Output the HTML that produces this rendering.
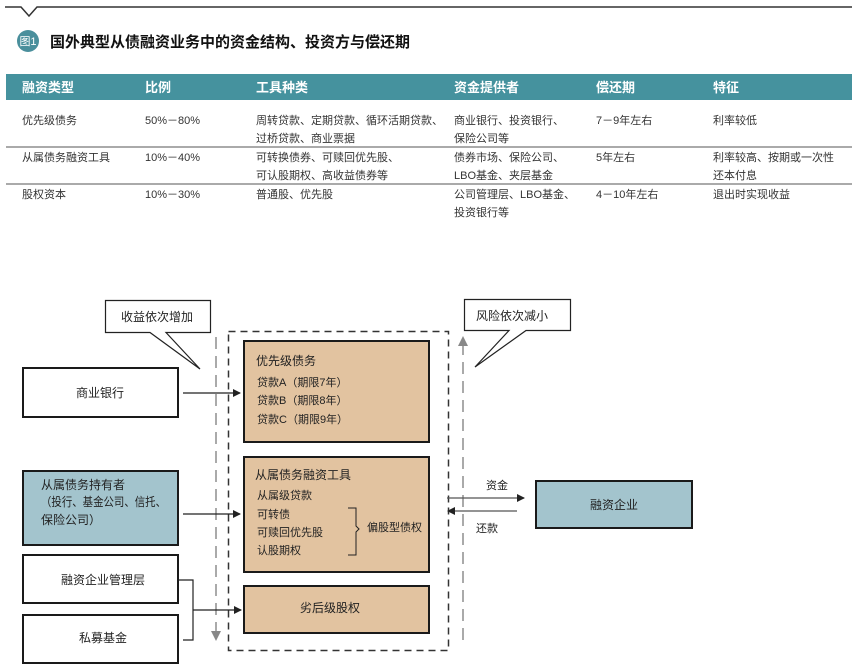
<!DOCTYPE html>
<html><head><meta charset="utf-8"><style>
html,body{margin:0;padding:0;background:#fff;}
svg{display:block;font-family:"Liberation Sans","Noto Sans CJK SC",sans-serif;}
</style></head><body>
<svg width="861" height="671" viewBox="0 0 861 671" xmlns="http://www.w3.org/2000/svg">
<defs>
<marker id="ab" markerWidth="8" markerHeight="8" refX="7" refY="4" orient="auto" markerUnits="userSpaceOnUse"><path d="M0,0 L8,4 L0,8 Z" fill="#222"/></marker>
<marker id="ag" markerWidth="10" markerHeight="10" refX="9" refY="5" orient="auto" markerUnits="userSpaceOnUse"><path d="M0,0 L10,5 L0,10 Z" fill="#888"/></marker>
</defs>
<polyline points="5,7 21,7 29,16 37,7 852,7" fill="none" stroke="#333" stroke-width="1.5"/>
<circle cx="28" cy="41" r="11" fill="#4a8f9c"/>
<text x="28" y="45" font-size="11" fill="#fff" text-anchor="middle">图1</text>
<text x="50" y="47" font-size="15" font-weight="bold" fill="#111">国外典型从债融资业务中的资金结构、投资方与偿还期</text>
<rect x="6" y="74" width="846" height="26" fill="#45929e"/>
<g font-size="13" font-weight="bold" fill="#fff">
<text x="22" y="92">融资类型</text><text x="145" y="92">比例</text><text x="256" y="92">工具种类</text>
<text x="454" y="92">资金提供者</text><text x="596" y="92">偿还期</text><text x="713" y="92">特征</text>
</g>
<g font-size="11" fill="#333">
<text x="22" y="124">优先级债务</text><text x="145" y="124">50%－80%</text><text x="256" y="124">周转贷款、定期贷款、循环活期贷款、</text><text x="256" y="142">过桥贷款、商业票据</text>
<text x="454" y="124">商业银行、投资银行、</text><text x="454" y="142">保险公司等</text><text x="596" y="124">7－9年左右</text><text x="713" y="124">利率较低</text>
<text x="22" y="161">从属债务融资工具</text><text x="145" y="161">10%－40%</text><text x="256" y="161">可转换债券、可赎回优先股、</text><text x="256" y="179">可认股期权、高收益债券等</text>
<text x="454" y="161">债券市场、保险公司、</text><text x="454" y="179">LBO基金、夹层基金</text><text x="596" y="161">5年左右</text><text x="713" y="161">利率较高、按期或一次性</text><text x="713" y="179">还本付息</text>
<text x="22" y="198">股权资本</text><text x="145" y="198">10%－30%</text><text x="256" y="198">普通股、优先股</text>
<text x="454" y="198">公司管理层、LBO基金、</text><text x="454" y="216">投资银行等</text><text x="596" y="198">4－10年左右</text><text x="713" y="198">退出时实现收益</text>
</g>
<line x1="6" y1="147" x2="852" y2="147" stroke="#555" stroke-width="1"/>
<line x1="6" y1="184" x2="852" y2="184" stroke="#555" stroke-width="1"/>
<rect x="228.5" y="331.5" width="220" height="319" fill="none" stroke="#333" stroke-width="1.5" stroke-dasharray="7,5"/>
<line x1="216" y1="337" x2="216" y2="640" stroke="#aaa" stroke-width="2" stroke-dasharray="12,7" marker-end="url(#ag)"/>
<line x1="463" y1="640" x2="463" y2="337" stroke="#aaa" stroke-width="2" stroke-dasharray="12,7" marker-end="url(#ag)"/>
<path d="M105.5,300.5 H210.5 V332.5 H166 L200,369 L150,332.5 H105.5 Z" fill="#fff" stroke="#222" stroke-width="1.2"/>
<text x="157" y="321" font-size="12" fill="#222" text-anchor="middle">收益依次增加</text>
<path d="M464.5,299.5 H570.5 V330.5 H526 L475,367 L509,330.5 H464.5 Z" fill="#fff" stroke="#222" stroke-width="1.2"/>
<text x="512" y="320" font-size="12" fill="#222" text-anchor="middle">风险依次减小</text>
<g stroke="#1a1a1a" stroke-width="2">
<rect x="23" y="368" width="155" height="49" fill="#fff"/>
<rect x="23" y="471" width="155" height="74" fill="#a3c4cd"/>
<rect x="23" y="555" width="155" height="48" fill="#fff"/>
<rect x="23" y="615" width="155" height="48" fill="#fff"/>
<rect x="244" y="341" width="185" height="101" fill="#e2c3a0"/>
<rect x="244" y="457" width="185" height="115" fill="#e2c3a0"/>
<rect x="244" y="586" width="185" height="47" fill="#e2c3a0"/>
<rect x="536" y="481" width="156" height="47" fill="#a3c4cd"/>
</g>
<g font-size="12" fill="#222">
<text x="100" y="397" text-anchor="middle">商业银行</text>
<text x="41" y="489">从属债务持有者</text>
<text x="41" y="506" textLength="125" lengthAdjust="spacingAndGlyphs">（投行、基金公司、信托、</text>
<text x="41" y="524">保险公司）</text>
<text x="103" y="584" text-anchor="middle">融资企业管理层</text>
<text x="103" y="642" text-anchor="middle">私募基金</text>
<text x="256" y="365">优先级债务</text>
<text x="257" y="386" font-size="11">贷款A（期限7年）</text>
<text x="257" y="404" font-size="11">贷款B（期限8年）</text>
<text x="257" y="423" font-size="11">贷款C（期限9年）</text>
<text x="255" y="479">从属债务融资工具</text>
<text x="257" y="499" font-size="11">从属级贷款</text>
<text x="257" y="518" font-size="11">可转债</text>
<text x="257" y="536" font-size="11">可赎回优先股</text>
<text x="257" y="554" font-size="11">认股期权</text>
<text x="367" y="531" font-size="11">偏股型债权</text>
<text x="330" y="612" text-anchor="middle">劣后级股权</text>
<text x="614" y="509" text-anchor="middle">融资企业</text>
<text x="486" y="489" font-size="11">资金</text>
<text x="476" y="532" font-size="11">还款</text>
</g>
<path d="M348,508 H356 V526 L359,529 L356,532 V555 H348" fill="none" stroke="#222" stroke-width="1"/>
<g stroke="#222" stroke-width="1.2" fill="none">
<line x1="183" y1="393" x2="240" y2="393" marker-end="url(#ab)"/>
<line x1="183" y1="514" x2="240" y2="514" marker-end="url(#ab)"/>
<polyline points="178,580 193,580 193,640 183,640"/>
<line x1="193" y1="610" x2="241" y2="610" marker-end="url(#ab)"/>
<line x1="447" y1="498" x2="524" y2="498" stroke="#555" marker-end="url(#ab)"/>
<line x1="517" y1="511" x2="448" y2="511" stroke="#555" marker-end="url(#ab)"/>
</g>
</svg>
</body></html>
